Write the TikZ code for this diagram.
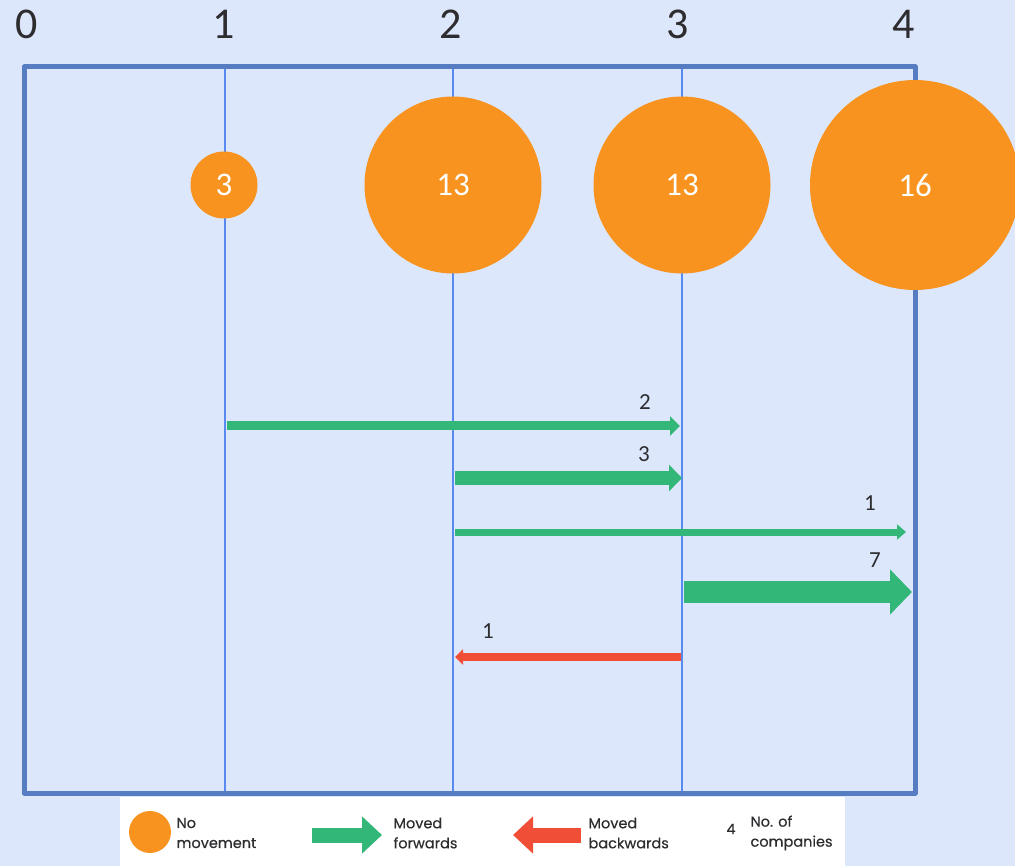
\documentclass[tikz,border=0pt]{standalone}
\usepackage{fontspec}
\setmainfont{Carlito}
\newfontfamily\legendfont[FakeBold=0.4]{Poppins}
\usetikzlibrary{arrows.meta}
\definecolor{bgblue}{RGB}{221,231,252}
\definecolor{framecol}{RGB}{86,125,193}
\definecolor{gridcol}{RGB}{88,138,240}
\definecolor{dotcol}{RGB}{247,147,30}
\definecolor{fwdcol}{RGB}{51,183,120}
\definecolor{backcol}{RGB}{240,78,55}
\definecolor{txtcol}{RGB}{45,45,48}

\begin{document}
\begin{tikzpicture}[x=1pt,y=-1pt,line cap=round,line join=round,
    axislabel/.style={text=txtcol,font=\fontsize{44}{44}\selectfont},
    frame/.style={draw=framecol,line width=5},
    gridline/.style={draw=gridcol,line width=1.6},
    nomove/.style={circle,fill=dotcol,inner sep=0pt,text=white,font=\fontsize{33}{33}\selectfont},
    fwd/.style={draw=fwdcol,line cap=butt},
    back/.style={draw=backcol,line cap=butt},
    count/.style={text=txtcol,font=\fontsize{23}{23}\selectfont},
    legtext/.style={anchor=west,align=left,text=txtcol,font=\legendfont\fontsize{14.5}{20}\selectfont}]
\fill[bgblue] (0,0) rectangle (1015,866);
\useasboundingbox (0,0) rectangle (1015,866);
\foreach \i/\x in {0/27,1/224,2/451,3/678,4/904}
    \node[axislabel] (t\i) at (\x,24) {\i};
\foreach \x in {225,453,682}
    \draw[gridline] (\x,69) -- (\x,793);
\draw[frame] (24,67) rectangle (915,793);
\node[nomove,minimum size=67] (c1) at (224,185) {3};
\node[nomove,minimum size=177] (c2) at (453,185) {13};
\node[nomove,minimum size=177] (c3) at (682,185) {13};
\node[nomove,minimum size=210] (c4) at (915,185) {16};
\coordinate (a1s) at (227,426); \coordinate (a1e) at (680,426);
\coordinate (a2s) at (455,478); \coordinate (a2e) at (682,478);
\coordinate (a3s) at (455,532); \coordinate (a3e) at (906,532);
\coordinate (a4s) at (684,592); \coordinate (a4e) at (912,592);
\coordinate (b1s) at (681,657); \coordinate (b1e) at (455,657);
\draw[fwd,line width=9,-{Triangle[length=10,width=19]}] (a1s) -- (a1e);
\draw[fwd,line width=14,-{Triangle[length=13,width=26]}] (a2s) -- (a2e);
\draw[fwd,line width=7,-{Triangle[length=9,width=15]}] (a3s) -- (a3e);
\draw[fwd,line width=22,-{Triangle[length=22,width=44]}] (a4s) -- (a4e);
\draw[back,line width=8,-{Triangle[length=8,width=15]}] (b1s) -- (b1e);
\node[count] (n1) at (645,402) {2};
\node[count] (n2) at (644,454) {3};
\node[count] (n3) at (870,503) {1};
\node[count] (n4) at (875,560) {7};
\node[count] (n5) at (488,631) {1};
% legend
\fill[white] (120,797) rectangle (845,866);
\node[circle,fill=dotcol,minimum size=42,inner sep=0pt] (l1) at (150,832) {};
\node[legtext] (l1t) at (173,833) {No\\movement};
\coordinate (l2s) at (312,835); \coordinate (l2e) at (382,835);
\draw[fwd,line width=15,-{Triangle[length=20,width=36]}] (l2s) -- (l2e);
\node[legtext] (l2t) at (390,833) {Moved\\forwards};
\coordinate (l3s) at (581,835); \coordinate (l3e) at (513,835);
\draw[back,line width=15,-{Triangle[length=20,width=36]}] (l3s) -- (l3e);
\node[legtext] (l3t) at (585,833) {Moved\\backwards};
\node[text=txtcol,font=\legendfont\fontsize{14.5}{14}\selectfont] (l4) at (731,829) {4};
\node[legtext] (l4t) at (747,833) {No. of\\companies};
\end{tikzpicture}
\end{document}
